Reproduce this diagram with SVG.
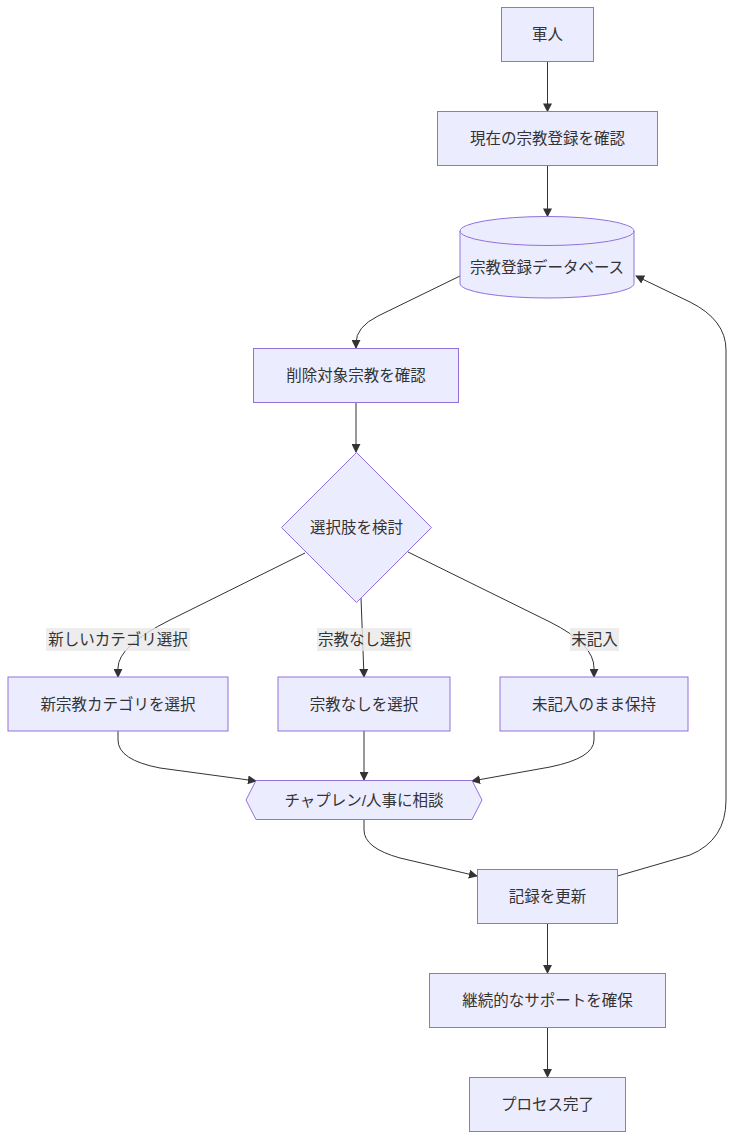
<svg xmlns="http://www.w3.org/2000/svg" width="735" height="1140" viewBox="0 0 735 1140">
<style>
.n{fill:#ECECFF;stroke:#9370DB;stroke-width:1}
.t{font-family:"Liberation Sans","Noto Sans CJK JP",sans-serif;font-size:15.5px;fill:#333;text-anchor:middle;dominant-baseline:central}
.e{fill:none;stroke:#333;stroke-width:1}
.lb{fill:rgba(232,232,232,0.8)}
</style>
<defs>
<marker id="ah" viewBox="0 0 10 10" refX="9" refY="5" markerWidth="9" markerHeight="9" markerUnits="userSpaceOnUse" orient="auto">
<path d="M0,0 L10,5 L0,10 z" fill="#333"/>
</marker>
</defs>
<rect width="735" height="1140" fill="#fff"/>
<g id="edges">
<path class="e" marker-end="url(#ah)" d="M547.5,62 L547.5,111.5"/>
<path class="e" marker-end="url(#ah)" d="M547.5,165.5 L547.5,216.5"/>
<path class="e" marker-end="url(#ah)" d="M460,276 L378,316 Q356,327 356,343 L356,348"/>
<path class="e" marker-end="url(#ah)" d="M356,402.5 L356,452"/>
<path class="e" marker-end="url(#ah)" d="M305,553 L170,620 Q118,646 118,668 L118,677"/>
<path class="e" marker-end="url(#ah)" d="M361,598 L364,677"/>
<path class="e" marker-end="url(#ah)" d="M408,552 L550,622 Q594,644 594,668 L594,677"/>
<path class="e" marker-end="url(#ah)" d="M118,731 L118,740 Q118,760 160,768 L256,781"/>
<path class="e" marker-end="url(#ah)" d="M364,731 L364,780"/>
<path class="e" marker-end="url(#ah)" d="M594,731 L594,740 Q594,758 550,767 L472,781"/>
<path class="e" marker-end="url(#ah)" d="M364,820 L364,830 Q364,848 400,858 L477,876"/>
<path class="e" marker-end="url(#ah)" d="M617.5,876 L690,855 Q726,840 726,800 L726,350 Q726,320 690,302 L636,276"/>
<path class="e" marker-end="url(#ah)" d="M547.5,923.5 L547.5,973"/>
<path class="e" marker-end="url(#ah)" d="M547.5,1027.5 L547.5,1077"/>
</g>
<g id="edge-labels">
<rect class="lb" x="46" y="628" width="144" height="23"/>
<text class="t" x="118" y="639.5">新しいカテゴリ選択</text>
<rect class="lb" x="317" y="628" width="95" height="23"/>
<text class="t" x="364.5" y="639.5">宗教なし選択</text>
<rect class="lb" x="570" y="628" width="49" height="23"/>
<text class="t" x="594.5" y="639.5">未記入</text>
</g>
<g id="A"><rect class="n" x="501.5" y="7.5" width="92" height="54"/><text class="t" x="547.5" y="34.5">軍人</text></g>
<g id="B"><rect class="n" x="437.5" y="111.5" width="220" height="54"/><text class="t" x="547.5" y="138.5">現在の宗教登録を確認</text></g>
<g id="C"><path class="n" d="M460,231 a87,14.5 0 0 0 174,0 a87,14.5 0 0 0 -174,0 l0,52.5 a87,14.5 0 0 0 174,0 l0,-52.5"/><text class="t" x="547" y="267">宗教登録データベース</text></g>
<g id="D"><rect class="n" x="253.5" y="348.5" width="205" height="54"/><text class="t" x="356" y="375.5">削除対象宗教を確認</text></g>
<g id="E"><polygon class="n" points="356.5,452.5 431.5,527.5 356.5,602.5 281.5,527.5"/><text class="t" x="356.5" y="527.5">選択肢を検討</text></g>
<g id="F1"><rect class="n" x="8" y="677" width="220" height="54"/><text class="t" x="118" y="704">新宗教カテゴリを選択</text></g>
<g id="F2"><rect class="n" x="278" y="677" width="172" height="54"/><text class="t" x="364" y="704">宗教なしを選択</text></g>
<g id="F3"><rect class="n" x="500" y="677" width="188" height="54"/><text class="t" x="594" y="704">未記入のまま保持</text></g>
<g id="G"><polygon class="n" points="246,800 256,780.5 472,780.5 482,800 472,819.5 256,819.5"/><text class="t" x="364" y="800">チャプレン/人事に相談</text></g>
<g id="H"><rect class="n" x="477.5" y="869.5" width="140" height="54"/><text class="t" x="547.5" y="896.5">記録を更新</text></g>
<g id="I"><rect class="n" x="429.5" y="973.5" width="236" height="54"/><text class="t" x="547.5" y="1000.5">継続的なサポートを確保</text></g>
<g id="J"><rect class="n" x="469.5" y="1077.5" width="156" height="54"/><text class="t" x="547.5" y="1104.5">プロセス完了</text></g>
</svg>
